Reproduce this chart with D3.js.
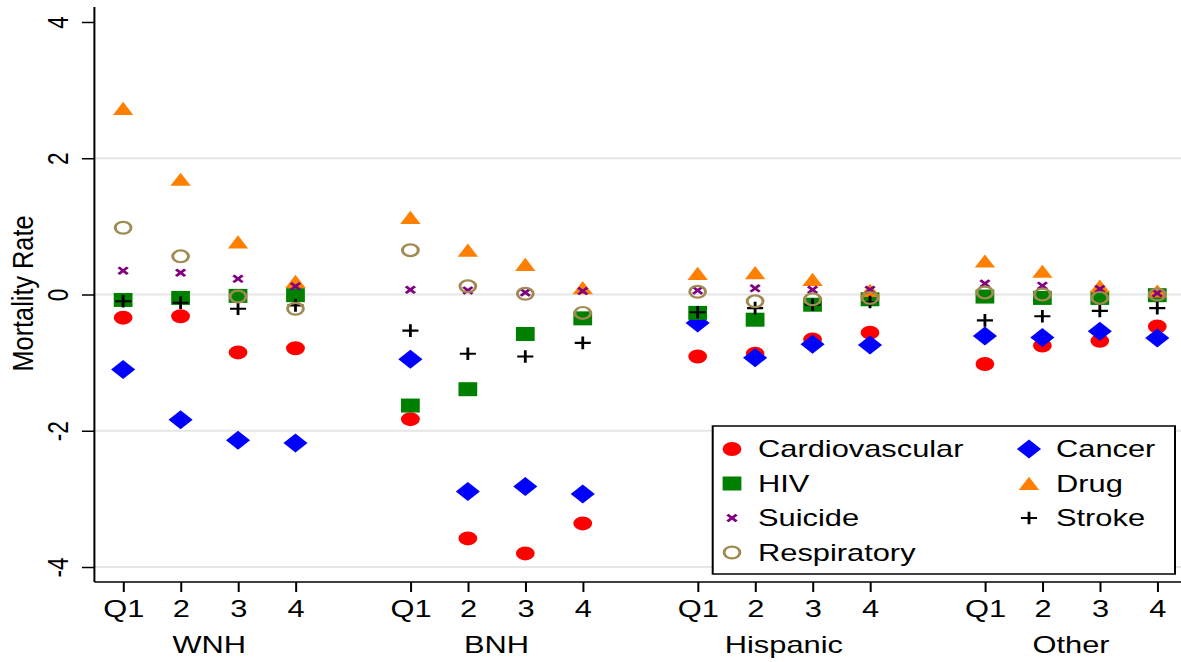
<!DOCTYPE html>
<html>
<head>
<meta charset="utf-8">
<script src="https://cdn.jsdelivr.net/npm/d3@7"></script>
<style>
  html, body { margin: 0; padding: 0; background: #fff; }
  svg { display: block; }
  text { font-family: "Liberation Sans", Arial, Helvetica, sans-serif; fill: #000; }
</style>
</head>
<body>
<svg id="chart" width="1181" height="662"></svg>
<script>
// ---------------- data ----------------
const groups = ["WNH", "BNH", "Hispanic", "Other"];
const quartiles = ["Q1", "2", "3", "4"];
const yTicks = [-4, -2, 0, 2, 4];
const yGrid = [-4, -2, 0, 2];

const cardiovascular = [-0.34, -0.32, -0.85, -0.79, -1.83, -3.58, -3.80, -3.36, -0.91, -0.87, -0.66, -0.56, -1.02, -0.75, -0.68, -0.47];
const cancer        = [-1.10, -1.84, -2.14, -2.18, -0.95, -2.89, -2.82, -2.93, -0.42, -0.93, -0.73, -0.74, -0.61, -0.63, -0.54, -0.64];
const hiv           = [-0.08, -0.05, -0.02, -0.01, -1.63, -1.39, -0.58, -0.35, -0.27, -0.37, -0.15, -0.07, -0.03, -0.05, -0.05, -0.01];
const drug          = [2.73, 1.69, 0.77, 0.19, 1.13, 0.65, 0.44, 0.10, 0.31, 0.32, 0.22, 0.06, 0.49, 0.34, 0.12, 0.05];
const suicide       = [0.35, 0.32, 0.23, 0.12, 0.07, 0.06, 0.03, 0.05, 0.06, 0.09, 0.07, 0.07, 0.16, 0.13, 0.08, 0.02];
const stroke        = [-0.10, -0.12, -0.21, -0.16, -0.53, -0.87, -0.91, -0.71, -0.26, -0.20, -0.15, -0.11, -0.38, -0.32, -0.24, -0.20];
const respiratory   = [0.98, 0.56, -0.03, -0.21, 0.65, 0.12, 0.01, -0.27, 0.04, -0.10, -0.07, -0.05, 0.03, 0.00, -0.05, 0.00];

const seriesNames = ["Cardiovascular", "Cancer", "HIV", "Drug", "Suicide", "Stroke", "Respiratory"];
const seriesValues = [cardiovascular, cancer, hiv, drug, suicide, stroke, respiratory];

// ---------------- styling ----------------
const S = 1.34;              // horizontal stretch of the reference picture
const W = 1181 / S, H = 662;
const fontSize = 23;

const markers = {
  Cardiovascular: { kind: "circle", color: "#ff0000" },
  Cancer:        { kind: "diamond", color: "#0000ff" },
  HIV:           { kind: "square", color: "#008000" },
  Drug:          { kind: "triangle", color: "#ff8000" },
  Suicide:       { kind: "x", color: "#800080" },
  Stroke:        { kind: "plus", color: "#000000" },
  Respiratory:   { kind: "ring", color: "#a08a52" }
};

function drawMarker(sel, kind, color) {
  if (kind === "circle") {
    sel.append("circle").attr("r", 7).attr("fill", color);
  } else if (kind === "ring") {
    sel.append("circle").attr("r", 5.9).attr("fill", "none").attr("stroke", color).attr("stroke-width", 2.2);
  } else if (kind === "square") {
    sel.append("rect").attr("x", -7).attr("y", -7).attr("width", 14).attr("height", 14).attr("fill", color);
  } else if (kind === "diamond") {
    sel.append("path").attr("d", "M0,-9.5L9,0L0,9.5L-9,0Z").attr("fill", color);
  } else if (kind === "triangle") {
    sel.append("path").attr("d", "M0,-6.7L7.6,6.5L-7.6,6.5Z").attr("fill", color);
  } else if (kind === "x") {
    sel.append("path").attr("d", "M-3.4,-3.4L3.4,3.4M-3.4,3.4L3.4,-3.4")
      .attr("stroke", color).attr("stroke-width", 2.4).attr("fill", "none");
  } else if (kind === "plus") {
    sel.append("path").attr("d", "M-6,0L6,0M0,-6.3L0,6.3")
      .attr("stroke", color).attr("stroke-width", 2.1).attr("fill", "none");
  }
}

// ---------------- scales ----------------
const positions = [];
groups.forEach((g, gi) => quartiles.forEach((q, qi) => positions.push(gi * 5 + qi + 1)));

const x = d3.scaleLinear().domain([0.5, 19.5]).range([94.4 / S, 1186 / S]);
const y = d3.scaleLinear().domain([-4.22, 4.22]).range([582, 7]);

const svg = d3.select("#chart");
const root = svg.append("g").attr("transform", `scale(${S},1)`);

// gridlines
root.append("g").selectAll("line").data(yGrid).join("line")
  .attr("x1", x(0.5)).attr("x2", W + 5)
  .attr("y1", d => y(d)).attr("y2", d => y(d))
  .attr("stroke", "#e6e6e6").attr("stroke-width", 1.8);

// y axis
const yAxis = root.append("g").attr("transform", `translate(${x(0.5)},0)`)
  .call(d3.axisLeft(y).tickValues(yTicks).tickSize(12.5 / S).tickFormat(d3.format("d")));
yAxis.select(".domain").attr("stroke", "#000").attr("stroke-width", 1.5)
  .attr("d", `M0,${y(4.22)}V${y(-4.22)}`);
yAxis.selectAll(".tick line").attr("stroke", "#000").attr("stroke-width", 1.5);
yAxis.selectAll(".tick text")
  .attr("x", null).attr("dy", null)
  .attr("transform", `translate(${-26 / S},0) rotate(-90)`)
  .attr("text-anchor", "middle")
  .style("font-size", "22.5px")
  .style("font-family", '"Liberation Sans", Arial, sans-serif')
  .text(d => d3.format("d")(d).replace("−", "-"));

// x axis
const xAxis = root.append("g").attr("transform", `translate(0,${y(-4.22)})`)
  .call(d3.axisBottom(x).tickValues(positions).tickSize(10)
    .tickFormat((d, i) => quartiles[i % 4]));
xAxis.select(".domain").attr("stroke", "#000").attr("stroke-width", 1.5)
  .attr("d", `M${x(0.5)},0H${W + 5}`);
xAxis.selectAll(".tick line").attr("stroke", "#000").attr("stroke-width", 1.5);
xAxis.selectAll(".tick text")
  .attr("y", 35).attr("dy", null)
  .style("font-size", fontSize + "px")
  .style("font-family", '"Liberation Sans", Arial, sans-serif');

// group labels
root.append("g").selectAll("text").data(groups).join("text")
  .attr("x", (d, i) => x(i * 5 + 2.5)).attr("y", 653)
  .attr("text-anchor", "middle").style("font-size", fontSize + "px")
  .text(d => d);

// y title
root.append("text")
  .attr("transform", `translate(${33 / S},${(y(4.22) + y(-4.22)) / 2 - 1}) rotate(-90)`)
  .attr("text-anchor", "middle")
  .style("font-size", "22.5px")
  .attr("textLength", 156).attr("lengthAdjust", "spacingAndGlyphs")
  .text("Mortality Rate");

// marks
const marks = root.append("g");
seriesNames.forEach((name, si) => {
  const m = markers[name];
  const vals = seriesValues[si];
  marks.append("g").selectAll("g").data(vals).join("g")
    .attr("transform", (d, i) => `translate(${x(positions[i])},${y(d)})`)
    .each(function () { drawMarker(d3.select(this), m.kind, m.color); });
});

// legend
const lg = root.append("g");
lg.append("rect")
  .attr("x", 712.7 / S).attr("y", 426)
  .attr("width", (1175 - 712.7) / S).attr("height", 148)
  .attr("fill", "#fff").attr("stroke", "#000").attr("stroke-width", 1.5);
const legendOrder = ["Cardiovascular", "Cancer", "HIV", "Drug", "Suicide", "Stroke", "Respiratory"];
const rowY = [449, 483.5, 518, 552.5];
const colMarkX = [732 / S, 1029 / S];
const colTextX = [758 / S, 1056 / S];
legendOrder.forEach((name, i) => {
  const col = i % 2, row = Math.floor(i / 2);
  const item = lg.append("g");
  const mk = item.append("g").attr("transform", `translate(${colMarkX[col]},${rowY[row]})`);
  drawMarker(mk, markers[name].kind, markers[name].color);
  item.append("text").attr("x", colTextX[col]).attr("y", rowY[row] + 8.2)
    .style("font-size", fontSize + "px").text(name);
});
</script>
</body>
</html>
